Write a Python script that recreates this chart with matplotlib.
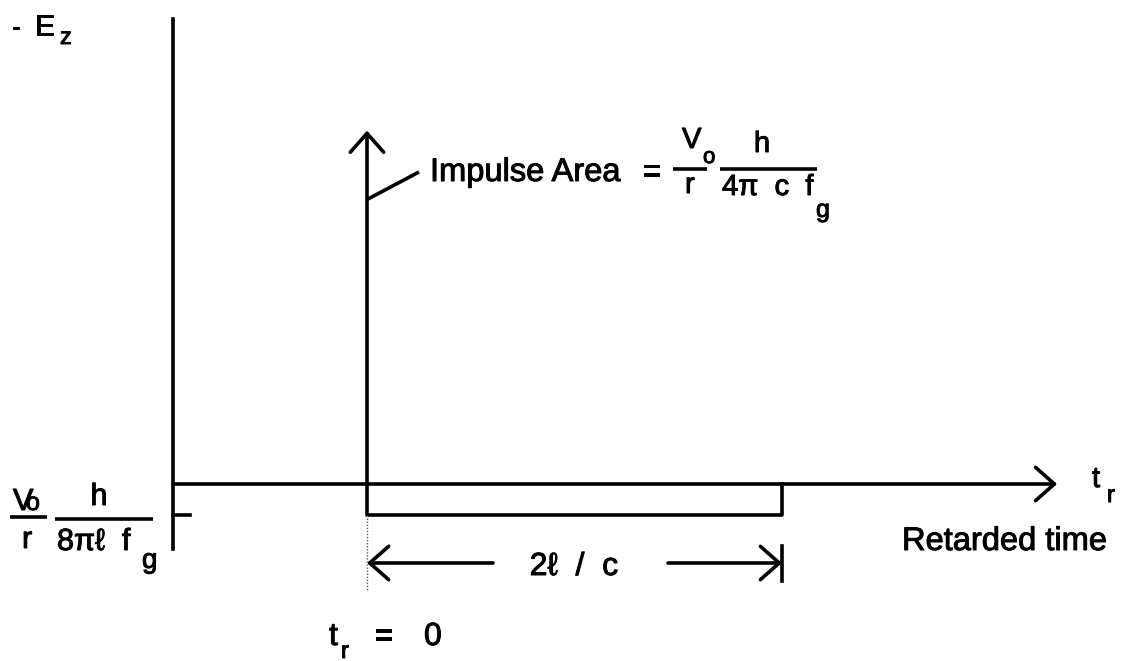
import matplotlib.pyplot as plt
import matplotlib.patheffects as pe
from matplotlib.lines import Line2D

plt.rcParams['font.family'] = ['Liberation Sans', 'DejaVu Sans']

W, H = 1126, 661

# time in units of the pulse length 2l/c, field in arbitrary units
pulse_t = [0.0, 0.0, 1.0, 1.0]
pulse_e = [0.0, -1.0, -1.0, 0.0]
impulse_t = 0.0
impulse_height = 11.4
t_axis = [-0.467, 1.663]
e_axis = [-2.1, 15.0]

LW = 2.6

fig = plt.figure(figsize=(W / 100, H / 100), dpi=100)
ax = fig.add_axes([0, 0, 1, 1])
ax.set_xlim(-367 / 415, (W - 367) / 415)
ax.set_ylim((484 - H) / 31, 484 / 31)
ax.axis('off')

heavy = [pe.withStroke(linewidth=0.7, foreground='k')]


def fx(x):
    return x / W


def fy(y):
    return 1 - y / H


def txt(x, y, s, size=22, ha='left'):
    fig.text(fx(x), fy(y), s, fontsize=size, va='baseline', ha=ha,
             path_effects=heavy)


def seg(x0, y0, x1, y1, lw=LW):
    fig.add_artist(Line2D([fx(x0), fx(x1)], [fy(y0), fy(y1)], color='k',
                          lw=lw, solid_capstyle='butt'))


head = dict(arrowstyle='->, head_length=0.68, head_width=0.6',
            lw=LW, color='k', mutation_scale=20, shrinkA=0, shrinkB=0)

# axes
ax.plot([t_axis[0], t_axis[0]], e_axis, color='k', lw=LW)
ax.annotate('', xy=(t_axis[1], 0), xytext=(t_axis[0], 0), arrowprops=head)
ax.plot([t_axis[0], t_axis[0] + 0.04], [pulse_e[1], pulse_e[1]],
        color='k', lw=LW)

# rectangular pulse and impulse at t = 0
ax.plot(pulse_t, pulse_e, color='k', lw=LW)
ax.annotate('', xy=(impulse_t, impulse_height), xytext=(impulse_t, 0),
            arrowprops=head)
ax.plot([impulse_t, impulse_t], [pulse_e[1], -3.45], color='0.35',
        lw=1.0, ls=(0, (1, 1.2)))

# pulse length marker
y_dim = (484 - 563) / 31
ax.annotate('', xy=(0, y_dim), xytext=((493 - 367) / 415, y_dim),
            arrowprops=head)
ax.annotate('', xy=(1, y_dim), xytext=((668 - 367) / 415, y_dim),
            arrowprops=head)
ax.plot([1, 1], [(484 - 546) / 31, (484 - 581) / 31], color='k', lw=LW)
txt(574, 575, '2\u2113  /  c', size=23, ha='center')

# impulse label
seg(368, 199, 419, 172)
txt(430, 181, 'Impulse Area', size=23.5)
txt(642, 181, '=', size=23.5)
seg(673, 169, 707, 169)
txt(682, 148, 'V', size=21)
txt(703, 163, 'o', size=16)
txt(685, 193, 'r', size=21)
seg(720, 169, 817, 169)
txt(762, 152, 'h', size=21, ha='center')
txt(722, 195, '4\u03c0  c  f', size=21)
txt(816, 217, 'g', size=18)

# pulse level label
seg(10, 517, 47, 517)
txt(13, 510, 'V', size=22)
txt(26, 510, 'o', size=18)
txt(22, 548, 'r', size=22)
seg(55, 519, 153, 519)
txt(99, 505, 'h', size=22, ha='center')
txt(57, 550, '8\u03c0\u2113  f', size=22)
txt(142, 568, 'g', size=20)

# axis labels
txt(12, 35, '-', size=18)
txt(35, 35, 'E', size=21)
txt(60, 44, 'z', size=17)
txt(1092, 487, 't', size=21)
txt(1107, 502, 'r', size=17)
txt(902, 550, 'Retarded time', size=23.5)
txt(329, 645, 't', size=23)
txt(341, 658, 'r', size=17)
txt(374, 645, '=', size=23)
txt(424, 645, '0', size=23)

fig.savefig('out.png', dpi=100, facecolor='white')
